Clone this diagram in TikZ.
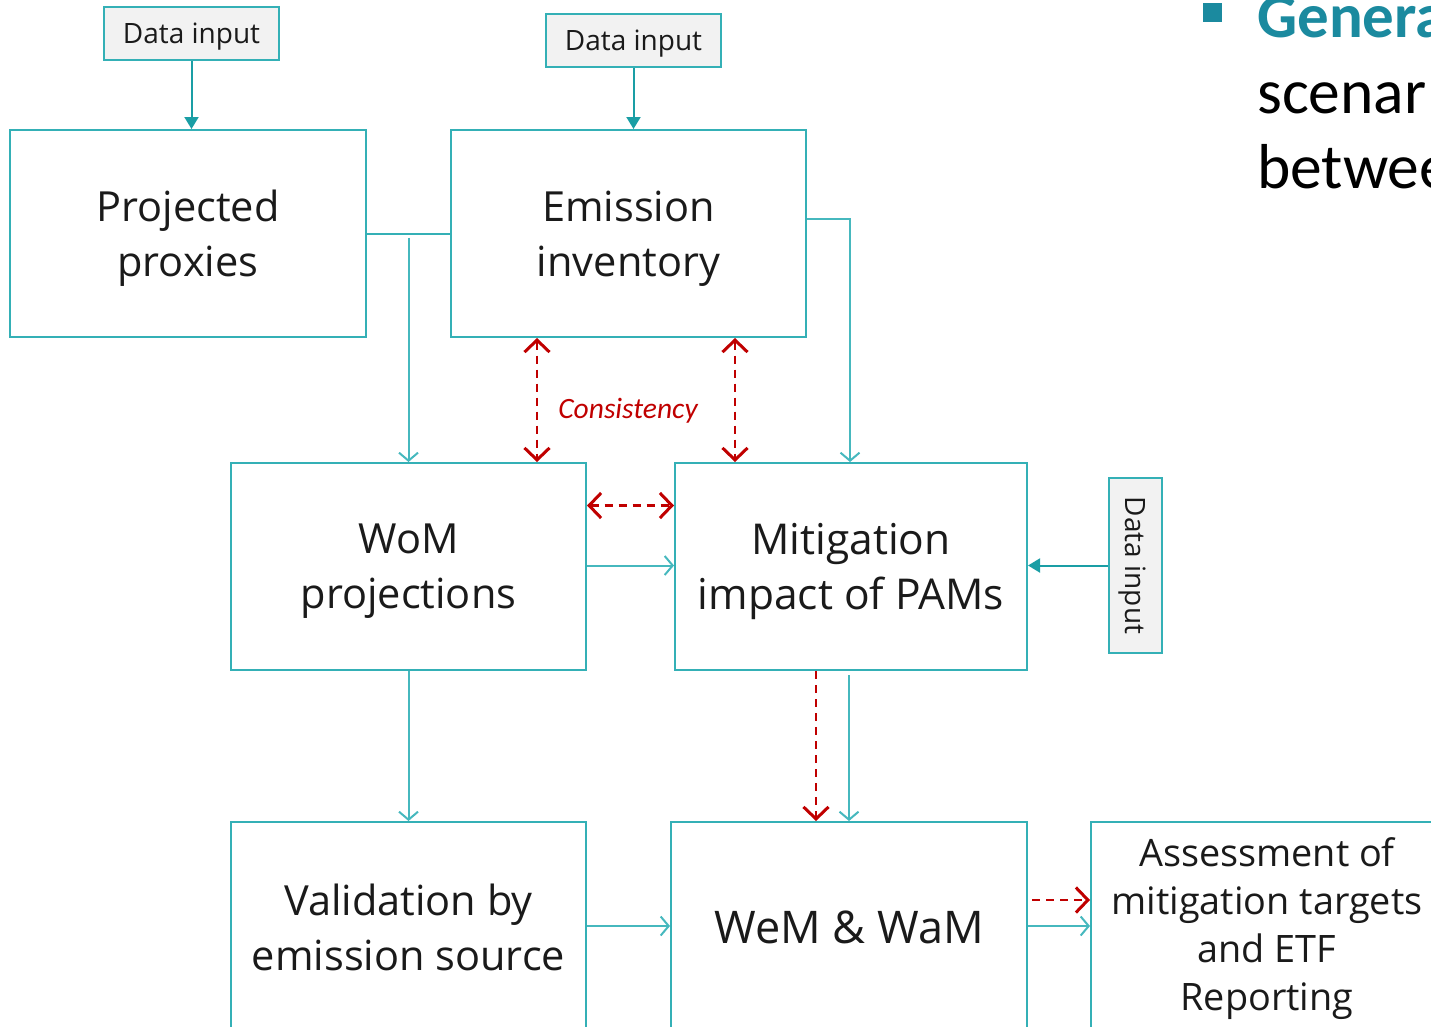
\documentclass[tikz,border=0pt]{standalone}
\usepackage{fontspec}
\setmainfont{Open Sans}
\newfontfamily\bodyfont{Carlito}
\usetikzlibrary{arrows.meta}

\definecolor{boxline}{RGB}{52,176,182}
\definecolor{flowline}{RGB}{70,184,190}
\definecolor{feedteal}{RGB}{26,158,165}
\definecolor{inputfill}{RGB}{242,242,242}
\definecolor{checkred}{RGB}{192,0,0}
\definecolor{ink}{RGB}{26,26,26}
\definecolor{headteal}{RGB}{27,138,159}

\newcommand{\inputlabel}{\raisebox{-3pt}[\height][\depth]{Data input}}

\tikzset{
  stagebox/.style={draw=boxline, line width=2pt, rectangle, inner sep=0pt},
  stagetext/.style={inner sep=0pt, align=center, text=ink,
    font=\fontsize{41.5}{55}\selectfont},
  inputbox/.style={draw=boxline, fill=inputfill, line width=2pt, rectangle,
    inner sep=0pt, text=ink, font=\fontsize{28}{34}\selectfont,
    minimum width=175pt, minimum height=53pt},
  feed/.style={draw=feedteal, line width=2pt,
    -{Triangle[length=12pt,width=14pt]}},
  flow/.style={draw=flowline, line width=2pt,
    -{Straight Barb[length=8pt,width=19pt,line width=2pt]}},
  check/.style={draw=checkred, line width=2.6pt, dash pattern=on 8pt off 6pt,
    {Straight Barb[length=12pt,width=25pt,line width=3pt]}-{Straight Barb[length=12pt,width=25pt,line width=3pt]}},
  checkone/.style={draw=checkred, line width=2.6pt, dash pattern=on 8pt off 6pt,
    -{Straight Barb[length=12pt,width=25pt,line width=3pt]}},
}

\begin{document}
\begin{tikzpicture}[x=1pt,y=-1pt]
\useasboundingbox (0,0) rectangle (1431,1026);
\clip (0,0) rectangle (1431,1026);

% input boxes
\node[inputbox] (in1) at (191.5,33.5) {\inputlabel};
\node[inputbox] (in2) at (633.5,40.5) {\inputlabel};
\node[inputbox, rotate=-90] (in3) at (1135,565.5) {\inputlabel};

% stage boxes
\node[stagebox, minimum width=356pt, minimum height=207pt] (proxy) at (188,233.5) {};
\node[stagebox, minimum width=355pt, minimum height=207pt] (inv) at (628.5,233.5) {};
\node[stagebox, minimum width=355pt, minimum height=207pt] (wom) at (408.5,566.5) {};
\node[stagebox, minimum width=352pt, minimum height=207pt] (pams) at (851,566.5) {};
\node[stagebox, minimum width=355pt, minimum height=208pt] (valid) at (408.5,926) {};
\node[stagebox, minimum width=356pt, minimum height=208pt] (wem) at (849,926) {};
\node[stagebox, minimum width=352pt, minimum height=208pt] (assess) at (1267,926) {};

% stage labels
\node[stagetext] (proxyt) at ([yshift=-5pt]proxy.center) {Projected\\proxies};
\node[stagetext] (invt) at ([yshift=-5pt]inv.center) {Emission\\inventory};
\node[stagetext] (womt) at ([yshift=-5pt]wom.center) {WoM\\projections};
\node[stagetext, font=\fontsize{42.5}{55}\selectfont] (pamst) at ([yshift=-5pt]pams.center) {Mitigation\\impact of PAMs};
\node[stagetext] (validt) at ([yshift=-1pt]valid.center) {Validation by\\emission source};
\node[stagetext, font=\fontsize{45}{55}\selectfont] (wemt) at ([yshift=-1pt]wem.center) {WeM \& WaM};
\node[stagetext, font=\fontsize{37.8}{48}\selectfont] (assesst) at ([yshift=-3pt]assess.center)
  {Assessment of\\mitigation targets\\and ETF\\Reporting};

% data feeds
\draw[feed] (in1.south) -- (proxy.north -| in1.south);
\draw[feed] (in2.south) -- (inv.north -| in2.south);
\draw[feed] (in3.south) -- (in3.south -| pams.east);

% main flow
\draw[draw=boxline, line width=2pt] (proxy.east) -- (inv.west);
\draw[flow] ([yshift=-4pt]proxy.east -| wom.north) -- (wom.north);
\draw[flow] ([yshift=14.5pt]inv.east) -| ([xshift=-1pt]pams.north);
\draw[flow] ([yshift=1pt]wom.east) -- ([yshift=1pt]wom.east -| pams.west);
\draw[flow] (wom.south) -- (valid.north);
\draw[flow] ([xshift=-2pt,yshift=-4pt]pams.south) -- ([xshift=-2pt]pams.south |- wem.north);
\draw[flow] (valid.east |- wem.west) -- (wem.west);
\draw[flow] (wem.east) -- (assess.west);

% consistency checks
\coordinate (cl) at (537,0);
\coordinate (cr) at (735,0);
\coordinate (cm) at (816,0);
\draw[check] (inv.south -| cl) -- (wom.north -| cl);
\draw[check] (inv.south -| cr) -- (pams.north -| cr);
\draw[check] ([yshift=61pt]wom.east) -- ([yshift=61pt]pams.west);
\draw[checkone] (pams.south -| cm) -- (wem.north -| cm);
\draw[checkone] ([xshift=4pt,yshift=26pt]wem.east) -- ([yshift=26pt]assess.west);
\node[text=checkred, font=\bodyfont\itshape\fontsize{29.5}{34}\selectfont] (cons) at (628,411) {Consistency};

% side bullet text
\fill[headteal] (1203,3) rectangle (1222,22);
\node[anchor=base west, inner sep=0pt, text=headteal,
  font=\bodyfont\bfseries\fontsize{63}{75}\selectfont] (head) at (1257,37) {Genera};
\node[anchor=base west, inner sep=0pt, text=black,
  font=\bodyfont\fontsize{63.5}{75}\selectfont] (line2) at (1257,113) {scenar};
\node[anchor=base west, inner sep=0pt, text=black,
  font=\bodyfont\fontsize{63.5}{75}\selectfont] (line3) at (1257,188) {betwee};
\end{tikzpicture}
\end{document}
